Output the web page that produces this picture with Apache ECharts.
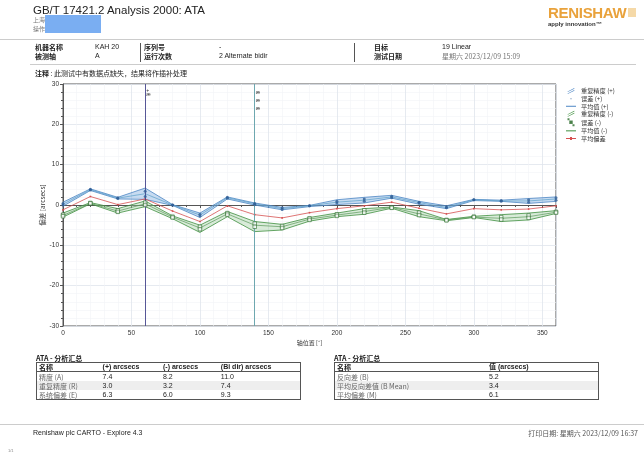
<!DOCTYPE html>
<html>
<head>
<meta charset="utf-8">
<script src="https://cdn.jsdelivr.net/npm/echarts@6/dist/echarts.min.js"></script>
<style>
body{margin:0;background:#fff;font-family:"Liberation Sans","Noto Sans CJK SC",sans-serif;color:#222}
#page{position:relative;width:644px;height:454px;overflow:hidden}
#content{position:absolute;left:0;top:0;width:644px;height:454px}
.t{position:absolute;white-space:nowrap;font-size:7px;line-height:8px}
.cn{font-family:"Noto Sans CJK SC",sans-serif}
.b{font-weight:bold}
.hr{position:absolute;height:1px;background:#ccc}
table{position:absolute;border-collapse:collapse;font-size:7px;line-height:8px}
td{padding:0 2px;height:9px;white-space:nowrap}
tr.h td{border-bottom:1px solid #555;font-weight:bold;height:8px}
tr.g td{background:#eee}
td.n{font-family:"Noto Sans CJK SC",sans-serif;color:#666}
</style>
</head>
<body>
<div id="page">
<div id="content"></div>

<div class="t" style="left:33px;top:4px;font-size:11.5px;line-height:13px">GB/T 17421.2 Analysis 2000: ATA</div>
<div class="t cn" style="left:33px;top:16px;font-size:6px;color:#777">上海</div>
<div class="t cn" style="left:33px;top:25px;font-size:6px;color:#777">操作</div>
<div style="position:absolute;left:45px;top:15px;width:56px;height:18px;background:#7aaef2"></div>

<div class="t b" style="left:548px;top:5px;font-size:15px;line-height:16px;color:#e9a23b;letter-spacing:-0.3px">RENISHAW</div>
<div style="position:absolute;left:628px;top:8px;width:8px;height:9px;background:#f5d9a8"></div>
<div class="t b" style="left:548px;top:21px;font-size:6px;line-height:7px;color:#333">apply innovation™</div>

<div class="hr" style="left:0;top:39px;width:644px"></div>

<div class="t cn b" style="left:35px;top:43px">机器名称</div>
<div class="t" style="left:95px;top:43px">KAH 20</div>
<div class="t cn b" style="left:144px;top:43px">序列号</div>
<div class="t" style="left:219px;top:43px">-</div>
<div class="t cn b" style="left:374px;top:43px">目标</div>
<div class="t" style="left:442px;top:43px">19 Linear</div>
<div class="t cn b" style="left:35px;top:52px">被测轴</div>
<div class="t" style="left:95px;top:52px">A</div>
<div class="t cn b" style="left:144px;top:52px">运行次数</div>
<div class="t" style="left:219px;top:52px">2 Alternate bidir</div>
<div class="t cn b" style="left:374px;top:52px">测试日期</div>
<div class="t cn" style="left:442px;top:52px;color:#777">星期六 2023/12/09 15:09</div>
<div style="position:absolute;left:140px;top:43px;width:1px;height:19px;background:#555"></div>
<div style="position:absolute;left:354px;top:43px;width:1px;height:19px;background:#555"></div>
<div class="hr" style="left:30px;top:64px;width:606px"></div>

<div class="t cn" style="left:35px;top:69px"><b>注释</b> : 此测试中有数据点缺失，结果将作插补处理</div>

<div class="t cn b" style="left:36px;top:354px">ATA - 分析汇总</div>
<table style="left:36px;top:362px;width:265px;border:1px solid #555">
<tr class="h"><td class="cn">名称</td><td>(+) arcsecs</td><td>(-) arcsecs</td><td>(Bi dir) arcsecs</td></tr>
<tr><td class="n">精度 (A)</td><td>7.4</td><td>8.2</td><td>11.0</td></tr>
<tr class="g"><td class="n">重复精度 (R)</td><td>3.0</td><td>3.2</td><td>7.4</td></tr>
<tr><td class="n">系统偏差 (E)</td><td>6.3</td><td>6.0</td><td>9.3</td></tr>
</table>

<div class="t cn b" style="left:334px;top:354px">ATA - 分析汇总</div>
<table style="left:334px;top:362px;width:265px;border:1px solid #555">
<tr class="h"><td class="cn" style="width:148px">名称</td><td>值 (arcsecs)</td></tr>
<tr><td class="n">反向差 (B)</td><td>5.2</td></tr>
<tr class="g"><td class="n">平均反向差值 (B Mean)</td><td>3.4</td></tr>
<tr><td class="n">平均偏差 (M)</td><td>6.1</td></tr>
</table>

<div class="hr" style="left:0;top:424px;width:644px"></div>
<div class="t" style="left:33px;top:429px">Renishaw plc CARTO - Explore 4.3</div>
<div class="t cn" style="right:6px;top:429px;color:#555">打印日期: 星期六 2023/12/09 16:37</div>
<div class="t" style="left:8px;top:447px;font-size:4px;color:#888">1/1</div>
</div>

<script>
// axis positions [°]
var positions = [0, 20, 40, 60, 80, 100, 120, 140, 160, 180, 200, 220, 240, 260, 280, 300, 320, 340, 360];

// (+) direction, arcsecs
var posHi   = [0.7, 4.0, 1.9, 4.2, 0.1, -2.0, 2.0, 0.5, -0.6, -0.1, 1.3, 1.9, 2.4, 0.9, -0.2, 1.4, 1.2, 1.6, 2.0];
var posLo   = [-0.3, 3.6, 1.5, 1.4, -0.1, -3.1, 1.5, 0.0, -1.2, -0.4, 0.1, 0.5, 1.7, 0.2, -0.9, 1.1, 0.9, 0.4, 0.9];
var posMean = [0.2, 3.8, 1.7, 2.8, 0.0, -2.5, 1.8, 0.3, -0.9, -0.2, 0.7, 1.2, 2.0, 0.6, -0.6, 1.3, 1.0, 1.0, 1.5];
var posRun1 = [0.4, 3.9, 1.8, 3.4, 0.0, -2.3, 1.9, 0.4, -0.7, -0.2, 0.9, 1.5, 2.2, 0.7, -0.5, 1.3, 1.1, 1.3, 1.8];
var posRun2 = [0.0, 3.7, 1.6, 2.1, 0.0, -2.7, 1.7, 0.2, -1.1, -0.2, 0.5, 0.9, 1.8, 0.5, -0.7, 1.3, 0.9, 0.7, 1.2];

// (-) direction, arcsecs
var negHi   = [-2.0, 0.6, -0.9, 1.0, -2.7, -5.0, -1.6, -4.1, -4.8, -3.1, -2.0, -0.9, -0.5, -1.4, -3.6, -2.8, -2.4, -2.0, -1.4];
var negLo   = [-3.0, 0.3, -2.0, -0.4, -3.4, -6.8, -2.9, -6.6, -6.2, -4.0, -2.9, -2.3, -0.8, -2.9, -3.9, -3.1, -4.1, -3.7, -2.1];
var negMean = [-2.6, 0.4, -1.5, 0.3, -3.0, -5.7, -2.2, -5.0, -5.4, -3.5, -2.5, -1.6, -0.6, -2.2, -3.7, -3.0, -3.3, -2.9, -1.8];
var negRun1 = [-2.4, 0.5, -1.3, 0.6, -2.9, -5.4, -2.0, -4.6, -5.2, -3.3, -2.3, -1.3, -0.6, -1.9, -3.7, -2.9, -3.0, -2.6, -1.7];
var negRun2 = [-2.8, 0.4, -1.7, 0.0, -3.1, -6.0, -2.4, -5.4, -5.7, -3.7, -2.7, -1.9, -0.7, -2.5, -3.8, -3.0, -3.6, -3.2, -1.9];

// bidirectional mean deviation
var avgDev  = [-1.2, 2.1, 0.1, 1.5, -1.5, -4.1, -0.2, -2.4, -3.2, -1.9, -0.9, -0.2, 0.7, -0.8, -2.2, -0.9, -1.2, -1.0, -0.2];

// missing-point markers
var gapLines = [60, 140];
var gapMarks = [[60, 28.4, '+'], [60, 27.3, 'æ'], [140, 27.9, 'æ'], [140, 25.9, 'æ'], [140, 23.9, 'æ']];

var yTicks = [-30, 30, 10];
var xTicks = [0, 360, 50];

function pairs(v) {
    return positions.map(function (x, i) { return [x, v[i]]; });
}

function band(name, hi, lo, fill) {
    return {
        name: name,
        type: 'custom',
        silent: true,
        z: 1,
        data: [[positions[0], hi[0]]],
        renderItem: function (params, api) {
            var top = positions.map(function (x, i) { return api.coord([x, hi[i]]); });
            var bot = positions.map(function (x, i) { return api.coord([x, lo[i]]); }).reverse();
            return { type: 'polygon', shape: { points: top.concat(bot) }, style: { fill: fill } };
        }
    };
}

function line(name, v, color, width, extra) {
    var s = {
        name: name,
        type: 'line',
        data: pairs(v),
        symbol: 'none',
        silent: true,
        z: 3,
        lineStyle: { color: color, width: width },
        itemStyle: { color: color }
    };
    for (var k in extra) s[k] = extra[k];
    return s;
}

function dots(name, v, color, symbol, hollow) {
    return {
        name: name,
        type: 'scatter',
        data: pairs(v),
        symbol: symbol,
        symbolSize: hollow ? 3.5 : 3,
        silent: true,
        z: 5,
        itemStyle: hollow ? { color: '#fff', borderColor: color, borderWidth: 0.8 } : { color: color }
    };
}

var blue = '#4d86c4', blueDark = '#2f5e96', blueFill = 'rgba(130,175,225,0.45)';
var green = '#3f8f3f', greenDark = '#2e6e2e', greenFill = 'rgba(160,205,160,0.4)';
var red = '#d65050';

var bandIcon = 'path://M0,7L10,2L10,3L0,8Z M0,10L10,5L10,6L0,11Z';
var lineIcon = 'path://M0,5.5h10v1h-10z';
var dotIcon = 'path://M0,0h0.01v0.01h-0.01z M9.99,11.99h0.01v0.01h-0.01z M4,5h2v2h-2z';
var sqIcon = 'path://M0,0h0.01v0.01h-0.01z M9.99,11.99h0.01v0.01h-0.01z M3.5,4.5h3v3h-3z M4.1,5.1v1.8h1.8v-1.8z';
var meanIcon = 'path://M0,5.5h10v1h-10z M4,4.5h2v3h-2z';

var myChart = echarts.init(document.getElementById('content'));
myChart.setOption({
    animation: false,
    textStyle: { fontFamily: 'Liberation Sans, Noto Sans CJK SC' },
    grid: { left: 63, right: 88, top: 84, bottom: 128, show: true, borderColor: '#555', borderWidth: 1 },
    legend: {
        orient: 'vertical',
        left: 561,
        top: 83,
        itemWidth: 10,
        itemHeight: 6,
        itemGap: 1.4,
        textStyle: { fontSize: 6.2, color: '#333', fontFamily: 'Noto Sans CJK SC' },
        data: [
            { name: '重复精度 (+)', icon: bandIcon, itemStyle: { color: blue } },
            { name: '误差 (+)', icon: dotIcon, itemStyle: { color: blueDark } },
            { name: '平均值 (+)', icon: lineIcon, itemStyle: { color: blue } },
            { name: '重复精度 (-)', icon: bandIcon, itemStyle: { color: green } },
            { name: '误差 (-)', icon: sqIcon, itemStyle: { color: greenDark } },
            { name: '平均值 (-)', icon: lineIcon, itemStyle: { color: green } },
            { name: '平均偏差', icon: meanIcon, itemStyle: { color: red } }
        ]
    },
    xAxis: {
        type: 'value',
        min: xTicks[0],
        max: xTicks[1],
        interval: xTicks[2],
        name: '轴位置 [°]',
        nameLocation: 'middle',
        nameGap: 14,
        nameMoveOverlap: false,
        nameTextStyle: { fontSize: 6, color: '#333', fontFamily: 'Noto Sans CJK SC' },
        axisLine: { lineStyle: { color: '#555' } },
        axisTick: { length: 3, lineStyle: { color: '#555' } },
        minorTick: { show: true, splitNumber: 5, length: 2, lineStyle: { color: '#555' } },
        axisLabel: { fontSize: 6.5, color: '#333', margin: 4, showMaxLabel: false },
        splitLine: { lineStyle: { color: '#dfe5ec', width: 0.8 } },
        minorSplitLine: { show: true, lineStyle: { color: '#f1f4f7', width: 0.6 } }
    },
    yAxis: {
        type: 'value',
        min: yTicks[0],
        max: yTicks[1],
        interval: yTicks[2],
        name: '偏差 [arcsecs]',
        nameLocation: 'middle',
        nameGap: 17,
        nameMoveOverlap: false,
        nameTextStyle: { fontSize: 6.5, color: '#333', fontFamily: 'Noto Sans CJK SC' },
        axisLine: { show: true, lineStyle: { color: '#555' } },
        axisTick: { show: true, length: 3, lineStyle: { color: '#555' } },
        minorTick: { show: true, splitNumber: 5, length: 2, lineStyle: { color: '#555' } },
        axisLabel: { fontSize: 6.5, color: '#333', margin: 4 },
        splitLine: { lineStyle: { color: '#dfe5ec', width: 0.8 } },
        minorSplitLine: { show: true, lineStyle: { color: '#f1f4f7', width: 0.6 } }
    },
    series: [
        band('重复精度 (+)', posHi, posLo, blueFill),
        line('重复精度 (+)', posHi, blue, 0.8),
        line('重复精度 (+)', posLo, blue, 0.8),
        band('重复精度 (-)', negHi, negLo, greenFill),
        line('重复精度 (-)', negHi, green, 0.8),
        line('重复精度 (-)', negLo, green, 0.8),
        line('平均值 (+)', posMean, '#5aa0c8', 0.7),
        line('平均值 (-)', negMean, '#5a9a5a', 0.7),
        line('平均偏差', avgDev, red, 0.8, {
            symbol: 'rect', symbolSize: 1.6,
            markLine: {
                silent: true,
                symbol: 'none',
                label: { show: false },
                data: [
                    { xAxis: gapLines[0], lineStyle: { color: '#45458c', width: 0.9, type: 'solid' } },
                    { xAxis: gapLines[1], lineStyle: { color: '#5f9fa8', width: 0.9, type: 'solid' } }
                ]
            },
            markPoint: {
                silent: true,
                symbol: 'circle',
                symbolSize: 0,
                label: { show: true, position: 'right', distance: 1, fontSize: 5, color: '#333', formatter: '{b}' },
                data: gapMarks.map(function (m) { return { name: m[2], coord: [m[0], m[1]] }; })
            }
        }),
        dots('误差 (+)', posRun1, blueDark, 'circle', false),
        dots('误差 (+)', posRun2, blueDark, 'circle', false),
        dots('误差 (-)', negRun1, greenDark, 'rect', true),
        dots('误差 (-)', negRun2, greenDark, 'rect', true)
    ]
});
</script>
</body>
</html>
